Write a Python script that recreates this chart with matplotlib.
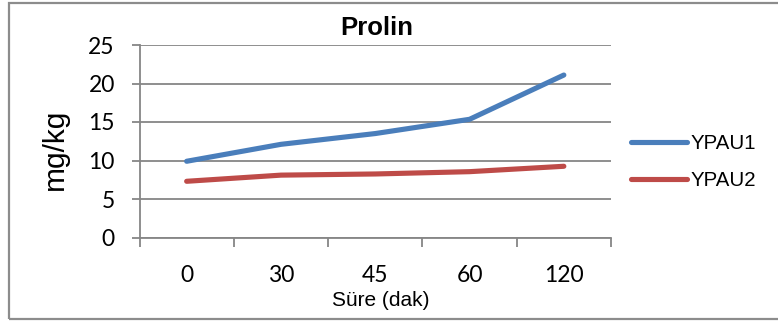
import matplotlib
matplotlib.use("Agg")
import matplotlib.pyplot as plt
from matplotlib.patches import Rectangle

categories = ["0", "30", "45", "60", "120"]
ypau1 = [9.9, 12.1, 13.5, 15.35, 21.1]
ypau2 = [7.3, 8.1, 8.25, 8.55, 9.25]
yticks = [0, 5, 10, 15, 20, 25]

W, H = 778, 323
fig = plt.figure(figsize=(W / 100, H / 100), dpi=100)
fig.patch.set_facecolor("white")

# outer chart frame (right edge runs off the canvas)
fig.patches.append(Rectangle((9 / W, 1 - 319 / H), (W + 10) / W, (319 - 3) / H,
                             transform=fig.transFigure, fill=False,
                             edgecolor="#8c8c8c", linewidth=1.6))

ax = fig.add_axes([139.5 / W, 1 - 237.5 / H, (611 - 139.5) / W, (237.5 - 45) / H])
grey = "#868686"

x = list(range(len(categories)))
l1, = ax.plot(x, ypau1, color="#4A7EBB", linewidth=3.7, solid_capstyle="round",
              solid_joinstyle="round", label="YPAU1")
l2, = ax.plot(x, ypau2, color="#BE4B48", linewidth=3.7, solid_capstyle="round",
              solid_joinstyle="round", label="YPAU2")

ax.set_xlim(-0.5, len(categories) - 0.5)
ax.set_ylim(0, 25)
ax.set_yticks(yticks)
ax.yaxis.grid(True, color=grey, linewidth=1.3)
ax.set_axisbelow(True)

for s in ["top", "right"]:
    ax.spines[s].set_visible(False)
for s in ["left", "bottom"]:
    ax.spines[s].set_color(grey)
    ax.spines[s].set_linewidth(1.3)

ax.set_xticks(x)
ax.set_xticklabels(categories)
ax.set_xticks([i - 0.5 for i in range(len(categories) + 1)], minor=True)
ax.tick_params(axis="x", which="major", length=0, pad=20)
ax.tick_params(axis="x", which="minor", length=6.5, width=1.3, color=grey, direction="out")
ax.tick_params(axis="y", length=5.8, width=1.3, color=grey, direction="out", pad=12)
for lab in ax.get_xticklabels() + ax.get_yticklabels():
    lab.set_fontfamily("Lato")
    lab.set_fontsize(16.5)
    lab.set_color("black")

fig.text(376.5 / W, 1 - 28 / H, "Prolin", ha="center", va="center",
         fontfamily="Liberation Sans", fontweight="bold", fontsize=18.5)
fig.text(380.5 / W, 1 - 301 / H, "Süre (dak)", ha="center", va="center",
         fontfamily="Liberation Sans", fontsize=15)
fig.text(55 / W, 1 - 149 / H, "mg/kg", ha="center", va="center", rotation=90,
         fontfamily="Liberation Sans", fontsize=21.5)

leg = fig.legend(handles=[l1, l2], loc="center left",
                 bbox_to_anchor=(631 / W, 1 - 162 / H),
                 frameon=False, handlelength=2.75, handletextpad=0.15,
                 labelspacing=0.85, borderaxespad=0, borderpad=0,
                 prop={"family": "Liberation Sans", "size": 14.7})
for h in leg.get_lines():
    h.set_solid_capstyle("round")

fig.savefig("out.png", dpi=100, facecolor="white")
